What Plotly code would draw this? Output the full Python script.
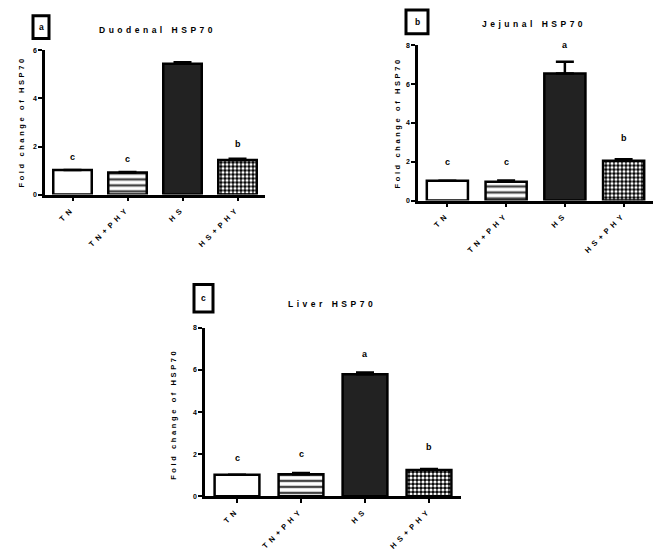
import plotly.graph_objects as go

W, H = 669, 560
categories = ["TN", "TN+PHY", "HS", "HS+PHY"]

duo_vals = [1.02, 0.92, 5.45, 1.44]
duo_err = [0.0, 0.02, 0.06, 0.05]
duo_letters = ["c", "c", "a", "b"]
duo_letter_y = [1.55, 1.48, 6.07, 2.1]

jej_vals = [1.02, 0.97, 6.56, 2.05]
jej_err = [0.0, 0.06, 0.6, 0.08]
jej_letters = ["c", "c", "a", "b"]
jej_letter_y = [1.98, 1.98, 8.0, 3.25]

liv_vals = [1.02, 1.05, 5.8, 1.25]
liv_err = [0.0, 0.05, 0.08, 0.05]
liv_letters = ["c", "c", "a", "b"]
liv_letter_y = [1.8, 1.99, 6.75, 2.35]

panels = [
    dict(vals=duo_vals, err=duo_err, letters=duo_letters, ly=duo_letter_y,
         title="Duodenal HSP70", tag="a", ymax=6, yticks=[0, 2, 4, 6],
         xpx=(45, 265), ypx=(47, 193), title_pos=(157, 26), box=(33, 12, 49, 35),
         ytitle_pos=(21, 120)),
    dict(vals=jej_vals, err=jej_err, letters=jej_letters, ly=jej_letter_y,
         title="Jejunal HSP70", tag="b", ymax=8, yticks=[0, 2, 4, 6, 8],
         xpx=(418, 653), ypx=(42, 199), title_pos=(534, 20), box=(406, 6, 428, 30),
         ytitle_pos=(397, 121)),
    dict(vals=liv_vals, err=liv_err, letters=liv_letters, ly=liv_letter_y,
         title="Liver HSP70", tag="c", ymax=8, yticks=[0, 2, 4, 6, 8],
         xpx=(205, 461), ypx=(328, 498.5), title_pos=(332, 304), box=(194, 284, 213, 312),
         ytitle_pos=(174, 415)),
]

FONT = "Liberation Sans, Arial, sans-serif"

def px(x):
    return x / W

def py(y):
    return 1 - y / H

def spaced(t, s=2.5):
    return f'<span style="letter-spacing:{s}px">{t}</span>'

fig = go.Figure()
annotations = []
shapes = []

for i, p in enumerate(panels):
    n = "" if i == 0 else str(i + 1)
    xa, ya = "x" + n, "y" + n
    fig.add_trace(go.Bar(
        x=categories, y=p["vals"], xaxis=xa, yaxis=ya, width=0.7,
        marker=dict(
            color=["white", "white", "#222222", "black"],
            line=dict(color="black", width=2.5),
            pattern=dict(shape=["", "-", "", "."],
                         fgcolor=["black", "black", "black", "white"], fgopacity=1,
                         size=[6, 6, 6, 4], solidity=[0.3, 0.4, 0.3, 0.5]),
        ),
        error_y=dict(type="data", array=p["err"], arrayminus=[0] * 4, symmetric=False,
                     thickness=2.5, width=9, color="black"),
        showlegend=False, hoverinfo="skip",
    ))
    axis_common = dict(showline=True, linecolor="black", linewidth=2.5, ticks="outside",
                       tickcolor="black", tickwidth=2, ticklen=4, showgrid=False,
                       zeroline=False)
    fig.update_layout(**{
        "xaxis" + n: dict(domain=[px(p["xpx"][0]), px(p["xpx"][1])], anchor=ya,
                          range=[-0.5, 3.5], tickvals=categories,
                          ticktext=[spaced(c, 4) for c in categories], tickangle=-45,
                          tickfont=dict(family=FONT, size=7.5, color="black", weight="bold"),
                          **axis_common),
        "yaxis" + n: dict(domain=[py(p["ypx"][1]), py(p["ypx"][0])], anchor=xa,
                          range=[0, p["ymax"]], tickvals=p["yticks"],
                          tickfont=dict(family=FONT, size=7, color="black", weight="bold"),
                          **axis_common),
    })
    for c, lt, yv in zip(categories, p["letters"], p["ly"]):
        annotations.append(dict(x=c, y=yv, xref=xa, yref=ya, text=lt, showarrow=False,
                                xanchor="center", yanchor="middle",
                                font=dict(family=FONT, size=9, color="black", weight="bold")))
    annotations.append(dict(x=px(p["title_pos"][0]), y=py(p["title_pos"][1]), xref="paper",
                            yref="paper", text=spaced(p["title"], 3.5), showarrow=False,
                            xanchor="center", yanchor="middle",
                            font=dict(family=FONT, size=8.5, color="black", weight="bold")))
    annotations.append(dict(x=px(p["ytitle_pos"][0]), y=py(p["ytitle_pos"][1]), xref="paper",
                            yref="paper", text=spaced("Fold change of HSP70", 2.6),
                            textangle=-90, showarrow=False,
                            xanchor="center", yanchor="middle",
                            font=dict(family=FONT, size=7.5, color="black", weight="bold")))
    x0, y0, x1, y1 = p["box"]
    shapes.append(dict(type="rect", xref="paper", yref="paper", x0=px(x0), x1=px(x1),
                       y0=py(y1), y1=py(y0), line=dict(color="black", width=3)))
    annotations.append(dict(x=px((x0 + x1) / 2), y=py((y0 + y1) / 2), xref="paper",
                            yref="paper", text=p["tag"], showarrow=False,
                            xanchor="center", yanchor="middle",
                            font=dict(family=FONT, size=8.5, color="black", weight="bold")))

fig.update_layout(width=W, height=H, margin=dict(l=0, r=0, t=0, b=0),
                  paper_bgcolor="white", plot_bgcolor="white",
                  annotations=annotations, shapes=shapes, bargap=0.3)
fig.write_html("out.html", config={"displayModeBar": False},
               post_script="document.body.style.margin='0';")
